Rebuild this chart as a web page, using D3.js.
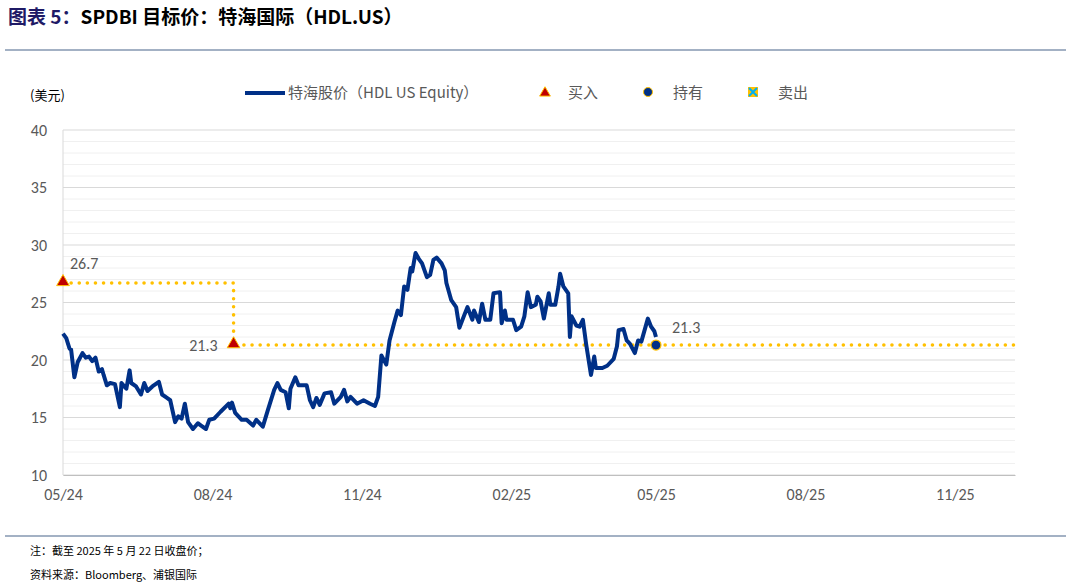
<!DOCTYPE html>
<html><head><meta charset="utf-8">
<script src="https://cdn.jsdelivr.net/npm/d3@7"></script>
<style>body{margin:0;background:#fff;font-family:"Noto Sans CJK SC","Noto Sans",sans-serif}</style>
</head><body><div id="chart"></div>
<script>
// calendar days since 2024-05-22, and close price
var dayOffsets = [0,2,4,5,7,9,12,14,16,18,20,22,24,25,27,29,32,35,36,39,41,42,45,48,50,52,55,59,61,64,66,69,71,73,75,77,80,83,85,88,90,93,97,102,103,104,106,110,113,117,119,123,126,130,132,134,137,139,140,143,145,150,152,154,156,158,161,165,167,171,173,175,177,181,185,189,192,194,196,199,201,204,206,208,210,212,214,215,217,219,221,224,226,228,230,233,235,236,239,242,244,247,249,252,253,256,258,260,263,265,269,270,272,273,277,279,282,284,286,288,291,292,294,296,299,300,303,305,306,308,311,312,313,316,318,320,322,325,327,328,332,335,339,341,342,345,347,349,352,354,356,360,362,364,365];
var prices = [22.3,21.9,21.0,20.9,18.5,19.8,20.6,20.2,20.3,19.9,20.2,19.0,19.2,18.7,17.8,18.0,17.9,15.9,18.0,17.5,19.1,18.0,17.7,17.0,18.0,17.3,17.7,18.1,17.0,16.7,16.5,14.6,15.1,14.9,16.2,14.6,14.0,14.5,14.3,14.0,14.8,14.9,15.5,16.2,15.8,16.3,15.4,14.8,14.8,14.3,14.8,14.2,15.6,17.4,18.0,17.4,17.2,15.8,17.5,18.5,17.8,17.8,16.5,15.9,16.7,16.1,17.1,17.2,16.2,16.8,17.4,16.4,16.8,16.2,16.5,16.2,16.0,16.8,20.4,19.6,21.7,23.3,24.3,23.9,26.4,26.1,28.0,27.7,29.3,28.8,28.4,27.2,27.4,28.7,28.9,28.4,27.8,26.7,25.2,24.6,22.8,23.9,24.6,23.5,24.3,23.3,24.9,23.5,23.5,25.8,25.9,23.2,24.3,23.5,23.5,22.6,22.9,23.8,25.9,24.6,24.8,25.5,25.1,23.6,25.8,24.8,24.8,26.4,27.5,26.4,25.8,22.0,23.8,23.0,22.9,23.5,21.4,18.7,20.3,19.3,19.3,19.5,20.1,21.2,22.6,22.7,21.7,21.4,20.6,21.7,21.6,23.6,22.9,22.5,22.0,21.3];
var buyDays = [0, 105], buyPrices = [26.7, 21.3];
var holdDays = [365], holdPrices = [21.3];
var yTicks = [10,15,20,25,30,35,40];
var xTickLabels = ["05/24","08/24","11/24","02/25","05/25","08/25","11/25"];

var W = 1071, H = 588;
var start = new Date(2024, 4, 22);
var endDay = 586;
var dt = function(d){ return d3.timeDay.offset(start, d); };
var x = d3.scaleTime().domain([start, dt(endDay)]).range([63, 1015]);
var y = d3.scaleLinear().domain([10, 40]).range([475, 130]);
var lf = "Carlito,Calibri,'Open Sans',sans-serif";

var svg = d3.select("#chart").append("svg").attr("width", W).attr("height", H);

// title
var t = svg.append("text").attr("x", 8).attr("y", 24).style("font-size", "19px").style("font-weight", "bold");
t.append("tspan").attr("fill", "#1f1a66").text("图表 5：");
t.append("tspan").attr("fill", "#000").text("SPDBI 目标价：特海国际（HDL.US）");
svg.append("line").attr("x1", 5).attr("x2", 1066).attr("y1", 50).attr("y2", 50).attr("stroke", "#8497b0").attr("stroke-width", 1.5);
svg.append("line").attr("x1", 5).attr("x2", 1066).attr("y1", 536).attr("y2", 536).attr("stroke", "#8497b0").attr("stroke-width", 1.5);
svg.append("text").attr("x", 30).attr("y", 555).style("font-size", "11px").text("注：截至 2025 年 5 月 22 日收盘价；");
svg.append("text").attr("x", 30).attr("y", 579).style("font-size", "11px").text("资料来源：Bloomberg、浦银国际");

// grid
svg.append("g").selectAll("line").data(d3.range(10, 41)).enter().append("line")
  .attr("x1", 63).attr("x2", 1015).attr("y1", y).attr("y2", y)
  .attr("stroke", function(d){ return d % 5 === 0 ? "#d9d9d9" : "#f0f0f0"; });
svg.append("line").attr("x1", 63).attr("x2", 63).attr("y1", 130).attr("y2", 475).attr("stroke", "#d9d9d9");

var ya = svg.append("g").attr("transform", "translate(63,0)")
  .call(d3.axisLeft(y).tickValues(yTicks).tickSize(0).tickPadding(16));
ya.select(".domain").remove();
ya.selectAll("text").attr("fill", "#595959").style("font-size", "16px").style("font-family", lf);

var xa = svg.append("g").attr("transform", "translate(0,475)")
  .call(d3.axisBottom(x).tickValues(xTickLabels.map(function(d, i){ return d3.timeMonth.offset(start, 3 * i); }))
    .tickFormat(function(d, i){ return xTickLabels[i]; }).tickSize(0).tickPadding(14));
xa.select(".domain").attr("stroke", "#bfbfbf");
xa.selectAll("text").attr("fill", "#595959").style("font-size", "16px").style("font-family", lf);

svg.append("text").attr("x", 30).attr("y", 100).style("font-size", "13px").attr("fill", "#000").text("(美元)");

// target path (dotted)
var tgt = [[dt(buyDays[0]), buyPrices[0]], [dt(buyDays[1]), buyPrices[0]], [dt(buyDays[1]), buyPrices[1]], [dt(endDay), buyPrices[1]]];
svg.append("path").attr("d", d3.line().x(function(d){ return x(d[0]); }).y(function(d){ return y(d[1]); })(tgt))
  .attr("fill", "none").attr("stroke", "#ffc000").attr("stroke-width", 3.5)
  .attr("stroke-dasharray", "0.1 8").attr("stroke-linecap", "round");

// price line
var series = dayOffsets.map(function(d, i){ return {d: dt(d), v: prices[i]}; });
svg.append("path").datum(series)
  .attr("d", d3.line().x(function(d){ return x(d.d); }).y(function(d){ return y(d.v); }))
  .attr("fill", "none").attr("stroke", "#003087").attr("stroke-width", 4).attr("stroke-linejoin", "round");

// markers
var tri = d3.symbol().type(d3.symbolTriangle).size(70);
svg.selectAll(".buy").data(buyDays).enter().append("path")
  .attr("transform", function(d, i){ return "translate(" + x(dt(d)) + "," + (y(buyPrices[i]) - 1) + ")"; })
  .attr("d", tri).attr("fill", "#c00000").attr("stroke", "#ffc000").attr("stroke-width", 1);
svg.selectAll(".hold").data(holdDays).enter().append("circle")
  .attr("cx", function(d){ return x(dt(d)); }).attr("cy", function(d, i){ return y(holdPrices[i]); })
  .attr("r", 5).attr("fill", "#003087").attr("stroke", "#ffc000").attr("stroke-width", 1.2);

svg.append("text").attr("x", x(dt(buyDays[0])) + 7).attr("y", y(buyPrices[0]) - 14).text(buyPrices[0].toFixed(1))
  .attr("fill", "#595959").style("font-size", "16px").style("font-family", lf);
svg.append("text").attr("x", x(dt(buyDays[1])) - 16).attr("y", y(buyPrices[1]) + 6).attr("text-anchor", "end").text(buyPrices[1].toFixed(1))
  .attr("fill", "#595959").style("font-size", "16px").style("font-family", lf);
svg.append("text").attr("x", x(dt(holdDays[0])) + 16).attr("y", y(holdPrices[0]) - 12).text(holdPrices[0].toFixed(1))
  .attr("fill", "#595959").style("font-size", "16px").style("font-family", lf);

// legend
var lg = svg.append("g").style("font-size", "15px").attr("fill", "#595959");
lg.append("line").attr("x1", 245).attr("x2", 285).attr("y1", 93).attr("y2", 93).attr("stroke", "#003087").attr("stroke-width", 4);
lg.append("text").attr("x", 288).attr("y", 98).text("特海股价（HDL US Equity）");
lg.append("path").attr("transform", "translate(545,93)").attr("d", d3.symbol().type(d3.symbolTriangle).size(50)).attr("fill", "#c00000").attr("stroke", "#ffc000");
lg.append("text").attr("x", 568).attr("y", 98).text("买入");
lg.append("circle").attr("cx", 648).attr("cy", 92).attr("r", 4.5).attr("fill", "#003087").attr("stroke", "#ffc000");
lg.append("text").attr("x", 673).attr("y", 98).text("持有");
lg.append("rect").attr("x", 748).attr("y", 87).attr("width", 10).attr("height", 10).attr("fill", "#ffc000");
lg.append("path").attr("d", "M749,88L757,96M757,88L749,96").attr("stroke", "#00b0f0").attr("stroke-width", 2);
lg.append("text").attr("x", 778).attr("y", 98).text("卖出");
</script></body></html>
